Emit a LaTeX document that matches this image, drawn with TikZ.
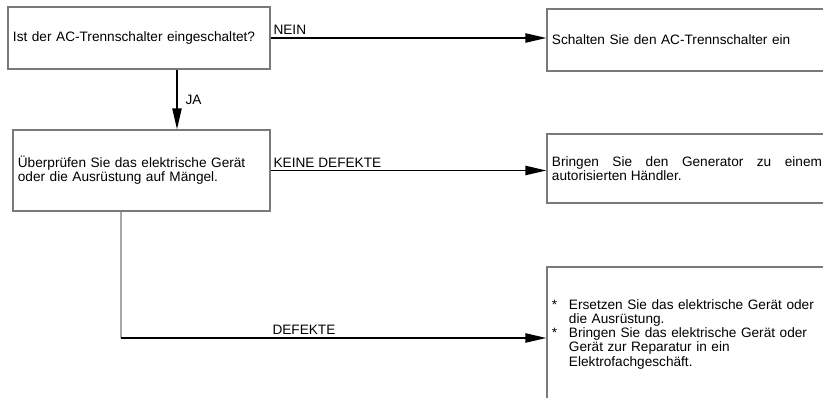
\documentclass[tikz,border=0pt]{standalone}
\usepackage{fontspec}
\setmainfont{Liberation Sans}
\usetikzlibrary{arrows.meta}
\definecolor{rahmen}{HTML}{7A7A7A}
\definecolor{hrahmen}{HTML}{A8A8A8}
\hyphenpenalty=10000
\tikzset{
  kasten/.style={draw=rahmen,line width=0.8pt,inner xsep=3.5pt,inner ysep=2pt,font=\fontsize{9.7}{10}\selectfont},
  pfeil/.style={-{Triangle[length=15pt,width=6.5pt]},black,line width=1.3pt},
  linie/.style={hrahmen,line width=1pt},
  marke/.style={font=\fontsize{9.7}{10}\selectfont,inner sep=1.5pt},
}

\begin{document}
\begin{tikzpicture}[x=0.025cm,y=-0.025cm]
  \useasboundingbox (0,0) rectangle (823,398);
  \clip (0,0) rectangle (823,398);
  \node[kasten,text width=6.3cm,minimum height=1.55cm,align=left] (frage) at (139,38)
    {Ist der AC-Trennschalter eingeschaltet?};
  \node[kasten,text width=6.18cm,minimum height=2.025cm,align=left] (pruefen) at (141.5,170.5)
    {Überprüfen Sie das elektrische Gerät\\oder die Ausrüstung auf Mängel.};
  \node[kasten,text width=6.75cm,minimum height=1.55cm,align=left] (ein) at (687,40)
    {Schalten Sie den AC-Trennschalter ein};
  \node[kasten,text width=6.75cm,minimum height=1.725cm,align=justify] (haendler) at (687,168.5)
    {Bringen Sie den Generator zu einem autorisierten Händler.};
  \node[kasten,text width=6.75cm,minimum height=3.4cm,align=left] (ersetzen) at (687,335)
    {\begin{tabular}{@{}p{0.425cm}@{}l@{}}
       {*} & Ersetzen Sie das elektrische Gerät oder\\
           & die Ausrüstung.\\
       {*} & Bringen Sie das elektrische Gerät oder\\
           & Gerät zur Reparatur in ein\\
           & Elektrofachgeschäft.
     \end{tabular}};
  \coordinate (ja) at (177,0);
  \coordinate (knick) at (121,338);
  \draw[pfeil] (frage.east) -- (frage.east -| ein.west) node[marke,pos=0,above right]{NEIN};
  \draw[pfeil] (frage.south -| ja) -- (pruefen.north -| ja) node[marke,midway,right=4pt]{JA};
  \draw[pfeil] (pruefen.east) -- (pruefen.east -| haendler.west) node[marke,pos=0,above right]{KEINE DEFEKTE};
  \draw[linie] (pruefen.south -| knick) -- (knick);
  \draw[pfeil] (knick) -- (knick -| ersetzen.west) node[marke,pos=0.43,above]{DEFEKTE};
\end{tikzpicture}
\end{document}
